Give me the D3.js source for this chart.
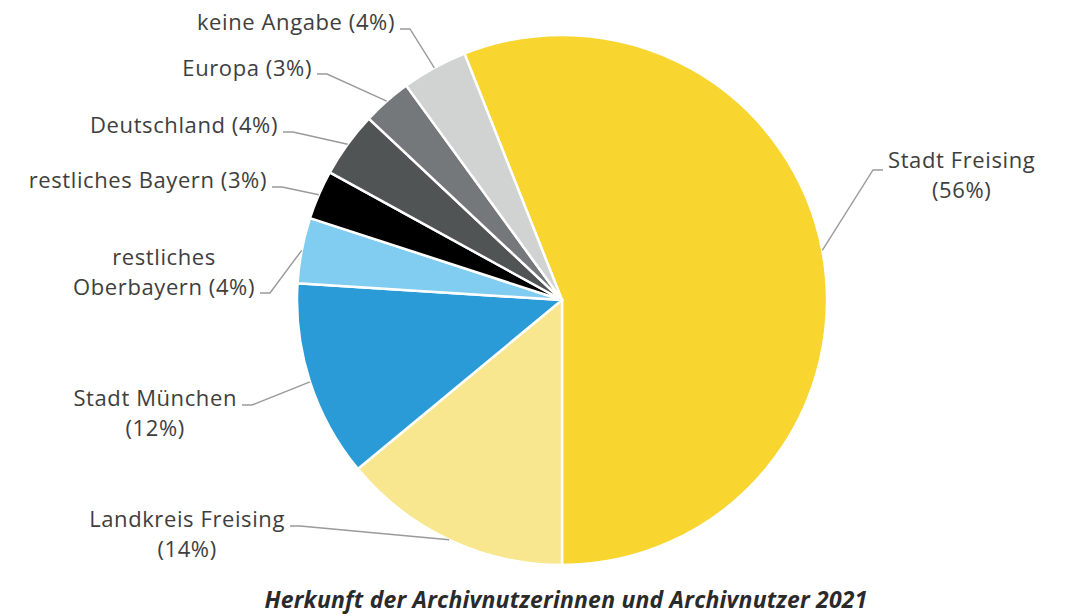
<!DOCTYPE html>
<html>
<head>
<meta charset="utf-8">
<script src="https://cdn.jsdelivr.net/npm/d3@7"></script>
<style>
  body { margin: 0; background: #fff; }
  svg { display: block; font-family: "Open Sans", sans-serif; }
</style>
</head>
<body>
<svg id="chart" width="1067" height="616"></svg>
<script>
// Herkunft der Archivnutzer 2021 (Anteile in %)
const categories = ['Stadt Freising', 'Landkreis Freising', 'Stadt München', 'restliches Oberbayern',
  'restliches Bayern', 'Deutschland', 'Europa', 'keine Angabe'];
const shares = [56, 14, 12, 4, 3, 4, 3, 4];
const colors = ['#f9d530', '#f8e78f', '#2b9bd8', '#80cdf1', '#000000', '#505455', '#75787b', '#d1d3d2'];
const title = 'Herkunft der Archivnutzerinnen und Archivnutzer 2021';

// label placement: elbow point relative to the pie centre, text lines, anchor side
const labelLayout = [
  { elbow: [311, -130], lines: ['Stadt Freising', '(56%)'], side: 'right', dy: -2 },
  { elbow: [-262, 226], lines: ['Landkreis Freising', '(14%)'], side: 'left', dy: 1 },
  { elbow: [-310, 105], lines: ['Stadt München', '(12%)'], side: 'left', dy: 1 },
  { elbow: [-292, -7], lines: ['restliches', 'Oberbayern (4%)'], side: 'left', dy: 2, up: true },
  { elbow: [-280, -113], lines: ['restliches Bayern (3%)'], side: 'left', dy: 1 },
  { elbow: [-269, -168], lines: ['Deutschland (4%)'], side: 'left', dy: 1 },
  { elbow: [-235, -226], lines: ['Europa (3%)'], side: 'left', dy: 2 },
  { elbow: [-152, -271], lines: ['keine Angabe (4%)'], side: 'left', dy: 1 }
];

const svg = d3.select('#chart');
const cx = 562, cy = 300, radius = 265;
const total = d3.sum(shares);

const pie = d3.pie()
  .sort(null)
  .value(d => d)
  .startAngle(Math.PI - 2 * Math.PI * shares[0] / total)
  .endAngle(3 * Math.PI - 2 * Math.PI * shares[0] / total);

const arc = d3.arc().innerRadius(0).outerRadius(radius);
const edgeArc = d3.arc().innerRadius(radius).outerRadius(radius);

const arcs = pie(shares);
const g = svg.append('g').attr('transform', `translate(${cx},${cy})`);

g.selectAll('path.slice')
  .data(arcs)
  .enter()
  .append('path')
  .attr('class', 'slice')
  .attr('d', arc)
  .attr('fill', (d, i) => colors[i])
  .attr('stroke', '#fff')
  .attr('stroke-width', 2.5)
  .attr('stroke-linejoin', 'round');

// leader lines + labels
const lineH = 30;
arcs.forEach((d, i) => {
  const lay = labelLayout[i];
  const start = edgeArc.centroid(d);
  const [ex, ey] = lay.elbow;
  const dir = lay.side === 'right' ? 1 : -1;
  const hx = ex + dir * 10;

  g.append('polyline')
    .attr('points', [start, [ex, ey], [hx, ey]].map(p => p.join(',')).join(' '))
    .attr('fill', 'none')
    .attr('stroke', '#9a9a9a')
    .attr('stroke-width', 1.4);

  const tx = hx + dir * 5;
  const txt = g.append('text')
    .attr('fill', '#3e3e3e')
    .attr('font-size', 22)
    .attr('letter-spacing', 0.6);

  // text baseline sits on the leader line (last line when label stacks upwards)
  const baseY = lay.up ? ey + lay.dy - (lay.lines.length - 1) * lineH : ey + lay.dy;
  const spans = lay.lines.map((t, k) => txt.append('tspan')
    .attr('x', tx)
    .attr('y', baseY + k * lineH)
    .attr('text-anchor', dir > 0 ? 'start' : 'end')
    .text(t));

  // multi-line labels: centre the other lines under the widest line
  if (lay.lines.length > 1) {
    const widths = spans.map(s => s.node().getComputedTextLength());
    const wMax = d3.max(widths);
    const mid = dir > 0 ? tx + wMax / 2 : tx - wMax / 2;
    spans.forEach((s, k) => {
      if (widths[k] < wMax) s.attr('x', mid).attr('text-anchor', 'middle');
    });
  }
});

svg.append('text')
  .attr('x', 566)
  .attr('y', 608)
  .attr('text-anchor', 'middle')
  .attr('font-size', 23)
  .attr('font-weight', 700)
  .attr('font-style', 'italic')
  .attr('letter-spacing', 0.2)
  .attr('fill', '#2a2a2a')
  .text(title);
</script>
</body>
</html>
